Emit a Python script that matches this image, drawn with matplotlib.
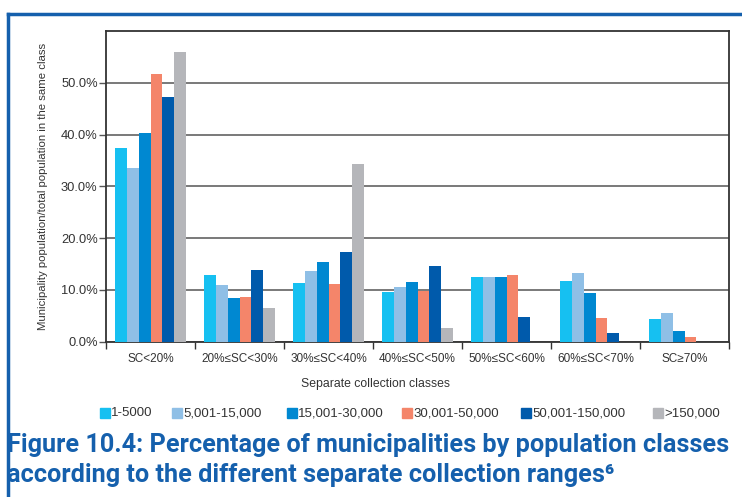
import matplotlib
matplotlib.use("Agg")
import matplotlib.pyplot as plt
import numpy as np
from matplotlib.lines import Line2D
from matplotlib.patches import Rectangle

categories = ["SC<20%", "20%≤SC<30%", "30%≤SC<40%", "40%≤SC<50%",
              "50%≤SC<60%", "60%≤SC<70%", "SC≥70%"]
class_names = ["1-5000", "5,001-15,000", "15,001-30,000", "30,001-50,000",
               "50,001-150,000", ">150,000"]
pop_1_5000 = [37.5, 12.8, 11.4, 9.6, 12.5, 11.7, 4.4]
pop_5001_15000 = [33.6, 11.0, 13.6, 10.5, 12.5, 13.3, 5.6]
pop_15001_30000 = [40.3, 8.5, 15.3, 11.5, 12.5, 9.5, 2.0]
pop_30001_50000 = [51.7, 8.7, 11.2, 9.8, 12.9, 4.6, 0.9]
pop_50001_150000 = [47.3, 13.9, 17.4, 14.7, 4.8, 1.6, 0.0]
pop_over_150000 = [56.0, 6.6, 34.4, 2.6, 0.0, 0.0, 0.0]
yticks = [0, 10, 20, 30, 40, 50]

series = [pop_1_5000, pop_5001_15000, pop_15001_30000,
          pop_30001_50000, pop_50001_150000, pop_over_150000]
colors = ["#16c0f1", "#8fbfe6", "#0088d1", "#f4856a", "#005aab", "#b5b6ba"]

narrow = ["Liberation Sans Narrow", "Liberation Sans", "DejaVu Sans"]
blue = "#1560ad"
grey_txt = "#333333"

W, H = 742, 497
fig = plt.figure(figsize=(W / 100, H / 100), dpi=100)
ax = fig.add_axes([106 / W, 1 - 341.7 / H, 623 / W, 310.7 / H])

x = np.arange(len(categories))
w = 0.134
for i, (vals, c) in enumerate(zip(series, colors)):
    ax.bar(x - 2.5 * w + i * w, vals, width=w, color=c, label=class_names[i], zorder=3)

ax.set_xlim(-0.5, len(categories) - 0.5)
ax.set_ylim(0, 60)
ax.set_yticks(yticks)
ax.set_yticklabels([f"{v:.1f}%" for v in yticks], family=narrow, fontsize=9.3, color=grey_txt)
ax.yaxis.grid(True, color="#555555", lw=1.1, zorder=0)
ax.tick_params(axis="y", length=5, width=1, color="#555555", pad=1)

ax.set_xticks(np.arange(len(categories) + 1) - 0.5)
ax.set_xticklabels([])
ax.tick_params(axis="x", which="major", length=5, width=1, color=grey_txt, direction="out")
ax.set_xticks(x, minor=True)
ax.set_xticklabels(categories, minor=True, family=narrow, fontsize=8.5, color=grey_txt)
ax.tick_params(axis="x", which="minor", length=0, pad=8)

for s in ax.spines.values():
    s.set_color(grey_txt)
    s.set_linewidth(1.3)

ax.set_ylabel("Municipality population/total population in the same class",
              family=narrow, fontsize=8.2, color=grey_txt, labelpad=9)

fig.text(376 / W, 1 - 384 / H, "Separate collection classes", family=narrow,
         fontsize=8.8, color=grey_txt, ha="center", va="center")

# legend entries laid out like the original (uneven spacing)
leg_x = [100, 172, 287, 402, 521, 653]
leg_y = 413
for lx, name, c in zip(leg_x, class_names, colors):
    fig.add_artist(Rectangle((lx / W, 1 - (leg_y + 5) / H), 10 / W, 10 / H,
                             transform=fig.transFigure, color=c))
    fig.text((lx + 11) / W, 1 - leg_y / H, name, family=narrow, fontsize=9.5,
             color=grey_txt, ha="left", va="center")

title_font = ["Roboto", "DejaVu Sans"]
fig.text(7 / W, 1 - 445 / H, "Figure 10.4: Percentage of municipalities by population classes",
         family=title_font, fontweight="bold", fontsize=18.2, color=blue,
         ha="left", va="center")
fig.text(7 / W, 1 - 475 / H, "according to the different separate collection ranges\u2076",
         family=title_font, fontweight="bold", fontsize=18.2, color=blue,
         ha="left", va="center")

# blue frame on the left and top
fig.add_artist(Line2D([8 / W, 8 / W], [0, 1 - 14 / H], transform=fig.transFigure,
                      color=blue, lw=2.5))
fig.add_artist(Line2D([8 / W, 1], [1 - 14 / H, 1 - 14 / H], transform=fig.transFigure,
                      color=blue, lw=2.5))

fig.savefig("out.png", dpi=100)
